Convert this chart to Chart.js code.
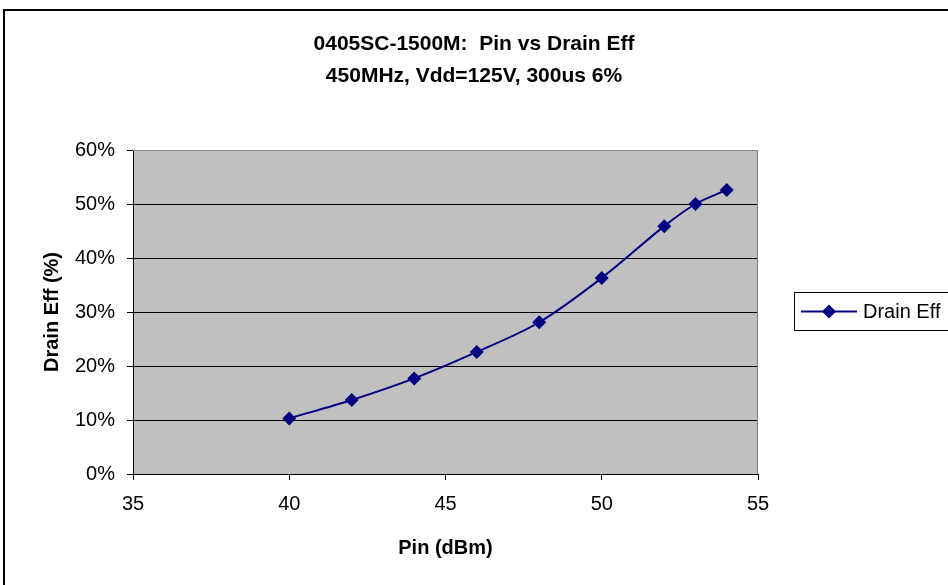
<!DOCTYPE html>
<html>
<head>
<meta charset="utf-8">
<script src="https://cdn.jsdelivr.net/npm/chart.js@4/dist/chart.umd.min.js"></script>
<style>
  html, body { margin: 0; padding: 0; background: #fff; }
  #wrap { width: 948px; height: 585px; }
</style>
</head>
<body>
<div id="wrap"><canvas id="chart"></canvas></div>
<script>
const titleLines = ['0405SC-1500M:  Pin vs Drain Eff', '450MHz, Vdd=125V, 300us 6%'];
const seriesName = 'Drain Eff';
const pinDbm = [40, 42, 44, 46, 48, 50, 52, 53, 54];
const drainEff = [10.3, 13.7, 17.7, 22.6, 28.1, 36.3, 45.9, 50.0, 52.6];
const xLabel = 'Pin (dBm)';
const yLabel = 'Drain Eff (%)';

const FONT = '"Liberation Sans", Arial, sans-serif';
const NAVY = '#000080';

// background, outer frame, grey plot area, titles and legend
const decor = {
  id: 'decor',
  beforeDraw(chart) {
    const { ctx, chartArea: a } = chart;
    ctx.save();
    ctx.fillStyle = '#fff';
    ctx.fillRect(0, 0, chart.width, chart.height);
    ctx.strokeStyle = '#000';
    ctx.lineWidth = 2;
    ctx.strokeRect(4, 10, chart.width + 20, chart.height + 20);
    ctx.fillStyle = '#C0C0C0';
    ctx.fillRect(a.left, a.top, a.right - a.left, a.bottom - a.top);
    ctx.restore();
  },
  beforeDatasetsDraw(chart) {
    const { ctx, chartArea: a } = chart;
    ctx.save();
    ctx.strokeStyle = '#808080';
    ctx.lineWidth = 1;
    ctx.beginPath();
    ctx.moveTo(a.left, a.top + 0.5);
    ctx.lineTo(a.right - 0.5, a.top + 0.5);
    ctx.lineTo(a.right - 0.5, a.bottom);
    ctx.stroke();
    ctx.restore();
  },
  afterDraw(chart) {
    const { ctx } = chart;
    ctx.save();
    ctx.fillStyle = '#000';
    ctx.font = 'bold 21px ' + FONT;
    ctx.textAlign = 'center';
    ctx.textBaseline = 'middle';
    titleLines.forEach((t, i) => ctx.fillText(t, 474, 44 + i * 32));

    // legend
    const ds = chart.data.datasets[0];
    ctx.fillStyle = '#fff';
    ctx.fillRect(794, 292, 170, 38);
    ctx.strokeStyle = '#000';
    ctx.lineWidth = 1;
    ctx.strokeRect(794.5, 292.5, 170, 38);
    const ly = 311.5;
    ctx.strokeStyle = ds.borderColor;
    ctx.lineWidth = 2;
    ctx.beginPath();
    ctx.moveTo(801, ly);
    ctx.lineTo(857, ly);
    ctx.stroke();
    ctx.fillStyle = ds.backgroundColor;
    ctx.beginPath();
    ctx.moveTo(829, ly - 7);
    ctx.lineTo(836, ly);
    ctx.lineTo(829, ly + 7);
    ctx.lineTo(822, ly);
    ctx.closePath();
    ctx.fill();
    ctx.fillStyle = '#000';
    ctx.font = '20px ' + FONT;
    ctx.textAlign = 'left';
    ctx.fillText(ds.label, 863, ly + 1);
    ctx.restore();
  }
};

new Chart(document.getElementById('chart'), {
  type: 'scatter',
  data: {
    datasets: [{
      label: seriesName,
      data: pinDbm.map((x, i) => ({ x, y: drainEff[i] })),
      showLine: true,
      tension: 0.33,
      borderColor: NAVY,
      backgroundColor: NAVY,
      borderWidth: 2,
      pointStyle: 'rectRot',
      pointRadius: 7,
      pointHoverRadius: 7,
      pointBorderWidth: 0
    }]
  },
  options: {
    responsive: true,
    maintainAspectRatio: false,
    animation: false,
    layout: { padding: { top: 150, right: 190, bottom: 0, left: 0 } },
    plugins: {
      legend: { display: false },
      title: { display: false },
      tooltip: { enabled: false }
    },
    scales: {
      x: {
        type: 'linear',
        min: 35,
        max: 55,
        afterFit: s => { s.height = 111; },
        ticks: { stepSize: 5, padding: 12, color: '#000', font: { family: FONT, size: 20 } },
        grid: { drawOnChartArea: false, tickLength: 6, color: '#000' },
        border: { color: '#000', width: 1 },
        title: {
          display: true, text: xLabel, color: '#000',
          font: { family: FONT, size: 20, weight: 'bold' },
          padding: { top: 0, bottom: 25 }
        }
      },
      y: {
        min: 0,
        max: 60,
        afterFit: s => { s.width = 133; },
        ticks: {
          stepSize: 10, padding: 12, color: '#000',
          font: { family: FONT, size: 20 },
          callback: v => v + '%'
        },
        grid: {
          tickLength: 6,
          tickColor: '#000',
          color: c => (c.tick && c.tick.value === 60) ? 'rgba(0,0,0,0)' : '#000'
        },
        border: { color: '#000', width: 1 },
        title: {
          display: true, text: yLabel, color: '#000',
          font: { family: FONT, size: 20, weight: 'bold' },
          padding: { top: 40, bottom: 0 }
        }
      }
    }
  },
  plugins: [decor]
});
</script>
</body>
</html>
